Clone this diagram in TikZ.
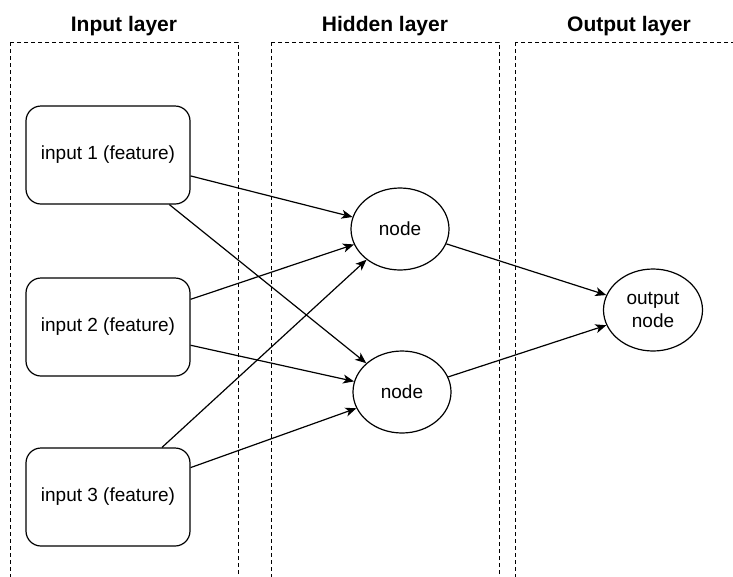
\documentclass[tikz,border=0pt]{standalone}
\usepackage{fontspec}
\setmainfont{Liberation Sans}
\usetikzlibrary{shapes.geometric,arrows.meta}
\tikzset{
  layerbox/.style={draw=black, line width=1pt, dash pattern=on 4pt off 3pt},
  title/.style={font=\fontsize{21}{25}\selectfont\bfseries, inner sep=0pt},
  feature/.style={draw=black, line width=1.2pt, rounded corners=15pt, minimum width=164pt, minimum height=98pt, inner sep=0pt, font=\fontsize{19}{23}\selectfont},
  neuron/.style={draw=black, line width=1.2pt, ellipse, minimum width=98pt, minimum height=82pt, inner sep=0pt, font=\fontsize{19}{23}\selectfont, align=center},
  link/.style={draw=black, line width=1.2pt, -{Stealth[length=11pt,width=9pt,inset=3pt]}}
}
\begin{document}
\begin{tikzpicture}[x=1pt,y=-1pt]
\useasboundingbox[fill=white] (0,0) rectangle (733,576);
\clip (0,0) rectangle (733,576);
% layer boxes
\draw[layerbox] (10,42) rectangle (238,600);
\draw[layerbox] (271,42) rectangle (499,600);
\draw[layerbox] (515,42) rectangle (760,600);
\node[title] (tin) at (124,26) {Input layer};
\node[title] (thid) at (385,26) {Hidden layer};
\node[title] (tout) at (629,26) {Output layer};
% nodes
\node[feature] (i1) at (108,155) {input 1 (feature)};
\node[feature] (i2) at (108,327) {input 2 (feature)};
\node[feature] (i3) at (108,497) {input 3 (feature)};
\node[neuron] (h1) at (400,229) {node};
\node[neuron] (h2) at (402,392) {node};
\node[neuron, minimum width=99pt, minimum height=82pt] (o) at (653,310) {output\\node};
% connectors
\draw[link] (i1) -- (h1);
\draw[link] (i1) -- (h2);
\draw[link] (i2) -- (h1);
\draw[link] (i2) -- (h2);
\draw[link] (i3) -- (h1);
\draw[link] (i3) -- (h2);
\draw[link] (h1) -- (o);
\draw[link] (h2) -- (o);
\end{tikzpicture}
\end{document}
